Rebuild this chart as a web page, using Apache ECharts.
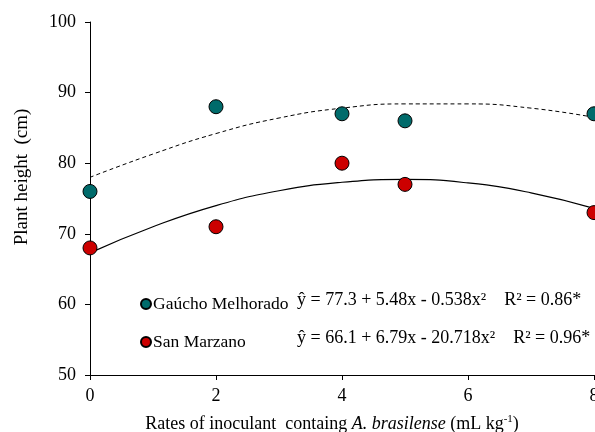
<!DOCTYPE html>
<html><head><meta charset="utf-8">
<script src="https://cdn.jsdelivr.net/npm/echarts@6/dist/echarts.min.js"></script>
<style>html,body{margin:0;padding:0;background:#fff}#c{width:595px;height:432px}</style>
</head><body><div id="c"></div>
<script>
const rates = [0, 2, 4, 5, 8];
const gauchoHeights = [76, 88, 87, 86, 87];
const sanMarzanoHeights = [68, 71, 80, 77, 73];
const curveX = [0, 1, 2, 3, 4, 5, 6, 7, 8];
const gauchoFit = [78.0, 81.3, 84.2, 86.4, 87.8, 88.4, 88.4, 87.8, 86.5];
const sanMarzanoFit = [67.3, 71.0, 74.0, 76.1, 77.3, 77.7, 77.2, 75.8, 73.6];
const xTicks = [0, 2, 4, 6, 8];
const yTicks = [50, 60, 70, 80, 90, 100];
const names = ['Gaúcho Melhorado', 'San Marzano'];
const equations = ['ŷ = 77.3 + 5.48x - 0.538x²', 'ŷ = 66.1 + 6.79x - 20.718x²'];
const r2 = ['R² = 0.86*', 'R² = 0.96*'];
const xTitle = ['Rates of inoculant  containg ', 'A. brasilense', ' (mL kg', '-1', ')'];
const yTitle = 'Plant height  (cm)';

const F = '"Liberation Serif", "Times New Roman", serif';
const FS = 18;
const pair = (xs, ys) => xs.map((x, i) => [x, ys[i]]);
const chart = echarts.init(document.getElementById('c'));
const eqRich = {
  e: { fontFamily: F, fontSize: FS, fill: '#000', color: '#000' },
  r: { fontFamily: F, fontSize: FS, fill: '#000', color: '#000', padding: [0, 0, 0, 18] }
};
chart.setOption({
  animation: false,
  textStyle: { fontFamily: F },
  grid: { left: 90, right: 1, top: 22, bottom: 57, containLabel: false, outerBoundsMode: 'none' },
  legend: {
    data: names, orient: 'vertical', left: 135, top: 290, itemGap: 20,
    icon: 'circle', itemWidth: 10, itemHeight: 10,
    textStyle: { fontFamily: F, fontSize: 17.5, color: '#000', padding: [0, 0, 0, -3] }
  },
  xAxis: {
    type: 'value', min: xTicks[0], max: xTicks[xTicks.length - 1], interval: 2,
    axisLine: { lineStyle: { color: '#000', width: 1 } },
    axisTick: { show: true, length: 5, lineStyle: { color: '#000' } },
    axisLabel: { color: '#000', fontSize: FS, fontFamily: F, margin: 12 },
    splitLine: { show: false }
  },
  yAxis: {
    type: 'value', min: yTicks[0], max: yTicks[yTicks.length - 1], interval: 10,
    axisLine: { show: true, lineStyle: { color: '#000', width: 1 } },
    axisTick: { show: true, length: 5, lineStyle: { color: '#000' } },
    axisLabel: { color: '#000', fontSize: FS, fontFamily: F, margin: 14 },
    splitLine: { show: false }
  },
  graphic: [
    { type: 'text', x: 22, y: 177, rotation: Math.PI / 2,
      style: { text: yTitle, fontFamily: F, fontSize: 19, fill: '#000', align: 'center', verticalAlign: 'middle' } },
    { type: 'text', x: 332, y: 424,
      style: {
        text: '{n|' + xTitle[0] + '}{i|' + xTitle[1] + '}{n|' + xTitle[2] + '}{s|' + xTitle[3] + '}{n|' + xTitle[4] + '}',
        align: 'center', verticalAlign: 'middle',
        rich: {
          n: { fontFamily: F, fontSize: FS, fill: '#000', lineHeight: 20 },
          i: { fontFamily: F, fontSize: FS, fill: '#000', fontStyle: 'italic', lineHeight: 20 },
          s: { fontFamily: F, fontSize: 11, fill: '#000', lineHeight: 20, verticalAlign: 'top', padding: [0, 0, 8, 0] }
        }
      } },
    { type: 'text', x: 297, y: 300,
      style: { text: '{e|' + equations[0] + '}{r|' + r2[0] + '}', verticalAlign: 'middle', rich: eqRich } },
    { type: 'text', x: 297, y: 338,
      style: { text: '{e|' + equations[1] + '}{r|' + r2[1] + '}', verticalAlign: 'middle', rich: eqRich } }
  ],
  series: [
    { type: 'line', data: pair(curveX, gauchoFit), smooth: true, showSymbol: false, silent: true,
      lineStyle: { color: '#000', width: 1, type: [4, 3] }, z: 1 },
    { type: 'line', data: pair(curveX, sanMarzanoFit), smooth: true, showSymbol: false, silent: true,
      lineStyle: { color: '#000', width: 1.2 }, z: 1 },
    { name: names[0], type: 'scatter', data: pair(rates, gauchoHeights), symbolSize: 14, z: 3,
      itemStyle: { color: '#006b6b', borderColor: '#000', borderWidth: 1, opacity: 1 } },
    { name: names[1], type: 'scatter', data: pair(rates, sanMarzanoHeights), symbolSize: 14, z: 3,
      itemStyle: { color: '#cc0000', borderColor: '#000', borderWidth: 1, opacity: 1 } }
  ]
});
</script></body></html>
